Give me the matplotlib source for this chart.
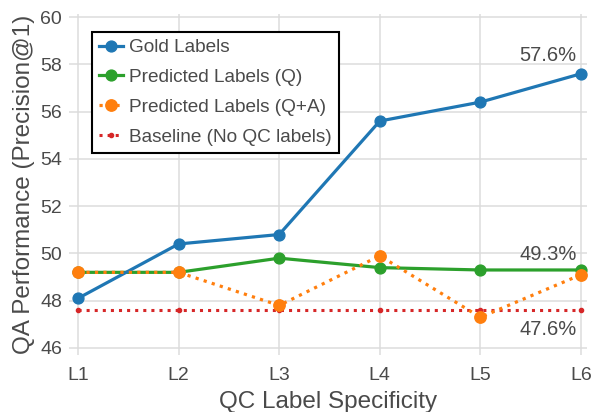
import matplotlib
matplotlib.use("Agg")
import matplotlib.pyplot as plt

levels = ["L1", "L2", "L3", "L4", "L5", "L6"]
gold = [48.1, 50.4, 50.8, 55.6, 56.4, 57.6]
pred_q = [49.2, 49.2, 49.8, 49.4, 49.3, 49.3]
pred_qa = [49.2, 49.2, 47.8, 49.9, 47.3, 49.1]
baseline = [47.6, 47.6, 47.6, 47.6, 47.6, 47.6]
yticks = [46, 48, 50, 52, 54, 56, 58, 60]

plt.rcParams['font.family'] = ['Liberation Sans', 'DejaVu Sans']
txt = '#4a4a4a'

fig = plt.figure(figsize=(5.94, 4.12), dpi=100)
ax = fig.add_axes([69/594, (412-355)/412, (587-69)/594, (355-14)/412])

x = list(range(len(levels)))
ax.plot(x, gold, color='#1f77b4', lw=2.3, marker='o', ms=7.8, label='Gold Labels', zorder=4)
ax.plot(x, pred_q, color='#2ca02c', lw=2.3, marker='o', ms=7.8, label='Predicted Labels (Q)', zorder=3)
ax.plot(x, pred_qa, color='#ff7f0e', lw=2.3, ls=':', marker='o', ms=8.2, label='Predicted Labels (Q+A)', zorder=5)
ax.plot(x, baseline, color='#d62728', lw=2.2, ls=':', marker='o', ms=3, label='Baseline (No QC labels)', zorder=2)

ax.annotate(f"{gold[-1]:.1f}%", (x[-1], gold[-1]), xytext=(-3, 6), textcoords='offset points',
            ha='right', va='bottom', fontsize=14.5, color=txt)
ax.annotate(f"{pred_q[-1]:.1f}%", (x[-1], pred_q[-1]), xytext=(-3, 4), textcoords='offset points',
            ha='right', va='bottom', fontsize=14.5, color=txt)
ax.annotate(f"{baseline[-1]:.1f}%", (x[-1], baseline[-1]), xytext=(-3, -7), textcoords='offset points',
            ha='right', va='top', fontsize=14.5, color=txt)

ax.set_xlim(-9/100.6, 5 + 6/100.6)
ax.set_ylim(46 - 7/23.64, 60 + 3/23.64)
ax.set_xticks(x)
ax.set_xticklabels(levels)
ax.set_yticks(yticks)
ax.tick_params(axis='both', length=0, labelsize=14, labelcolor=txt)
ax.tick_params(axis='x', pad=9)
ax.tick_params(axis='y', pad=5)
for s in ax.spines.values():
    s.set_visible(False)
ax.grid(True, color='#dcdcdc', lw=1.1)
ax.set_axisbelow(True)

ax.set_xlabel("QC Label Specificity", fontsize=17.5, color=txt, labelpad=5)
ax.set_ylabel("QA Performance (Precision@1)", fontsize=17.5, color=txt, labelpad=4)

leg = ax.legend(loc='upper left', bbox_to_anchor=(0.044, 0.947), fontsize=13.7, frameon=True,
                fancybox=False, edgecolor='black', framealpha=1, handlelength=1.3,
                handletextpad=0.3, borderpad=0.36, labelspacing=0.66, borderaxespad=0)
leg.get_frame().set_linewidth(1.5)
for t in leg.get_texts():
    t.set_color(txt)

fig.savefig("out.png", dpi=100)
